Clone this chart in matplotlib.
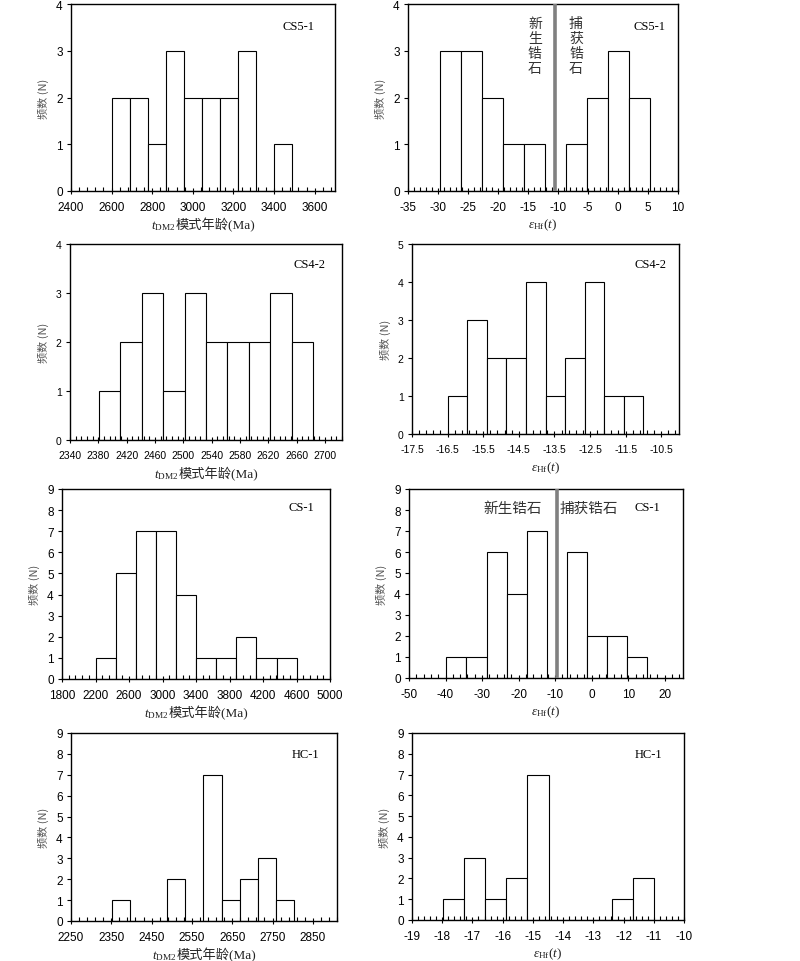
import numpy as np
import matplotlib
matplotlib.use("Agg")
import matplotlib.pyplot as plt
from matplotlib.offsetbox import TextArea, HPacker, AnnotationBbox

plt.rcParams['font.family'] = ['Liberation Sans', 'Noto Sans CJK SC']
plt.rcParams['axes.unicode_minus'] = False
plt.rcParams['mathtext.fontset'] = 'custom'
plt.rcParams['mathtext.rm'] = 'Liberation Serif'
plt.rcParams['mathtext.it'] = 'Liberation Serif:italic'
plt.rcParams['mathtext.bf'] = 'Liberation Serif:bold'

# histogram data: first bin edge, bin width, counts
tdm_cs51_start, tdm_cs51_width = 2600, 89
tdm_cs51_counts = [2, 2, 1, 3, 2, 2, 2, 3, 0, 1]
hf_cs51_start, hf_cs51_width = -29.7, 3.5
hf_cs51_counts = [3, 3, 2, 1, 1, 0, 1, 2, 3, 2]

tdm_cs42_start, tdm_cs42_width = 2381, 30.2
tdm_cs42_counts = [1, 2, 3, 1, 3, 2, 2, 2, 3, 2]
hf_cs42_start, hf_cs42_width = -16.49, 0.548
hf_cs42_counts = [1, 3, 2, 2, 4, 1, 2, 4, 1, 1]

tdm_cs1_start, tdm_cs1_width = 2206, 239.5
tdm_cs1_counts = [1, 5, 7, 7, 4, 1, 1, 2, 1, 1]
hf_cs1_start, hf_cs1_width = -39.76, 5.49
hf_cs1_counts = [1, 1, 6, 4, 7, 0, 6, 2, 2, 1]

tdm_hc1_start, tdm_hc1_width = 2352, 45.25
tdm_hc1_counts = [1, 0, 0, 2, 0, 7, 1, 2, 3, 1]
hf_hc1_start, hf_hc1_width = -17.98, 0.70
hf_hc1_counts = [1, 3, 1, 2, 7, 0, 0, 0, 1, 2]

# boundary between newly formed and captured zircons
cs51_split = -10.5
cs1_split = -9.5

new_zircon = "新生锆石"
old_zircon = "捕获锆石"

fig = plt.figure(figsize=(8, 9.62), dpi=100)
serif_cjk = ['Liberation Serif', 'Noto Sans CJK SC']


def px_axes(l, t, r, b):
    return fig.add_axes([l / 800, 1 - b / 962, (r - l) / 800, (b - t) / 962])


def panel(rect, start, width, counts, xlim, major, minor, ymax, fmt, kind,
          sample, sxy, tsize=8.5):
    ax = px_axes(*rect)
    edges = start + width * np.arange(len(counts))
    ax.bar(edges, counts, width=width, align='edge', color='white',
           edgecolor='black', linewidth=0.8, zorder=2)
    ax.set_axisbelow(False)
    ax.set_xlim(*xlim)
    ax.set_ylim(0, ymax)
    ax.set_xticks(np.arange(xlim[0], major[1] + major[0] / 2, major[0]))
    ax.set_xticks(np.arange(xlim[0], xlim[1] + minor / 2, minor), minor=True)
    ax.xaxis.set_major_formatter(matplotlib.ticker.FormatStrFormatter(fmt))
    ax.set_yticks(range(ymax + 1))
    ax.tick_params(axis='x', which='major', direction='inout', length=5,
                   width=0.8, pad=5, labelsize=tsize)
    ax.tick_params(axis='x', which='minor', direction='in', length=3, width=0.8)
    ax.tick_params(axis='y', direction='out', length=3, width=0.8, pad=3,
                   labelsize=tsize)
    for s in ax.spines.values():
        s.set_linewidth(1.0)
    ax.set_ylabel("频数 (N)", family=['Noto Sans CJK SC'], fontsize=8,
                  color='#555555', labelpad=5)
    if kind == 'tdm':
        parts = [TextArea(r"$t_{\mathrm{DM2}}$", textprops=dict(size=9.5, color='#222222')),
                 TextArea("模式年龄(Ma)", textprops=dict(size=9.5, family=serif_cjk,
                                                         color='#222222'))]
    else:
        parts = [TextArea(r"$\varepsilon_{\mathrm{Hf}}(t)$",
                          textprops=dict(size=9.5, color='#222222'))]
    pack = HPacker(children=parts, align='baseline', pad=0, sep=0)
    ab = AnnotationBbox(pack, (0.5, 0), xycoords='axes fraction', xybox=(0, -24),
                        boxcoords='offset points', box_alignment=(0.5, 0.5),
                        frameon=False, pad=0)
    ax.add_artist(ab)
    ax.text(sxy[0], sxy[1], sample, transform=ax.transAxes, ha='center',
            va='center', fontsize=9, family='Liberation Serif')
    return ax


ax1 = panel((71, 5, 335, 192), tdm_cs51_start, tdm_cs51_width, tdm_cs51_counts,
            (2400, 3700), (200, 3600), 40, 4, '%d', 'tdm', 'CS5-1', (0.86, 0.882))
ax2 = panel((408, 5, 678, 192), hf_cs51_start, hf_cs51_width, hf_cs51_counts,
            (-35, 10), (5, 10), 1, 4, '%d', 'hf', 'CS5-1', (0.896, 0.882))
ax2.axvline(cs51_split, color='#808080', lw=2.6, zorder=3)
ax2.text(0.47, 0.935, "\n".join(new_zircon), transform=ax2.transAxes, ha='center',
         va='top', fontsize=10, linespacing=1.08, family=['Noto Sans CJK SC'],
         color='#333333')
ax2.text(0.622, 0.935, "\n".join(old_zircon), transform=ax2.transAxes, ha='center',
         va='top', fontsize=10, linespacing=1.08, family=['Noto Sans CJK SC'],
         color='#333333')

ax3 = panel((70, 245, 342, 441), tdm_cs42_start, tdm_cs42_width, tdm_cs42_counts,
            (2340, 2722), (40, 2700), 8, 4, '%d', 'tdm', 'CS4-2', (0.879, 0.898),
            tsize=7.5)
ax4 = panel((412, 245, 679, 435), hf_cs42_start, hf_cs42_width, hf_cs42_counts,
            (-17.5, -10), (1, -10.5), 0.2, 5, '%.1f', 'hf', 'CS4-2', (0.895, 0.895),
            tsize=7.5)

ax5 = panel((62, 490, 330, 680), tdm_cs1_start, tdm_cs1_width, tdm_cs1_counts,
            (1800, 5000), (400, 5000), 80, 9, '%d', 'tdm', 'CS-1', (0.895, 0.905))
ax6 = panel((409, 490, 683, 679), hf_cs1_start, hf_cs1_width, hf_cs1_counts,
            (-50, 25), (10, 20), 2, 9, '%d', 'hf', 'CS-1', (0.869, 0.905))
ax6.axvline(cs1_split, color='#808080', lw=2.6, zorder=3)
ax6.text(0.38, 0.9, new_zircon, transform=ax6.transAxes, ha='center',
         va='center', fontsize=10.5, family=['Noto Sans CJK SC'], color='#333333')
ax6.text(0.657, 0.9, old_zircon, transform=ax6.transAxes, ha='center',
         va='center', fontsize=10.5, family=['Noto Sans CJK SC'], color='#333333')

ax7 = panel((71, 734, 337, 922), tdm_hc1_start, tdm_hc1_width, tdm_hc1_counts,
            (2250, 2905), (100, 2850), 20, 9, '%d', 'tdm', 'HC-1', (0.883, 0.888))
ax8 = panel((412, 734, 684, 921), hf_hc1_start, hf_hc1_width, hf_hc1_counts,
            (-19, -10), (1, -10), 0.2, 9, '%d', 'hf', 'HC-1', (0.868, 0.888))

fig.savefig("out.png", dpi=100)
